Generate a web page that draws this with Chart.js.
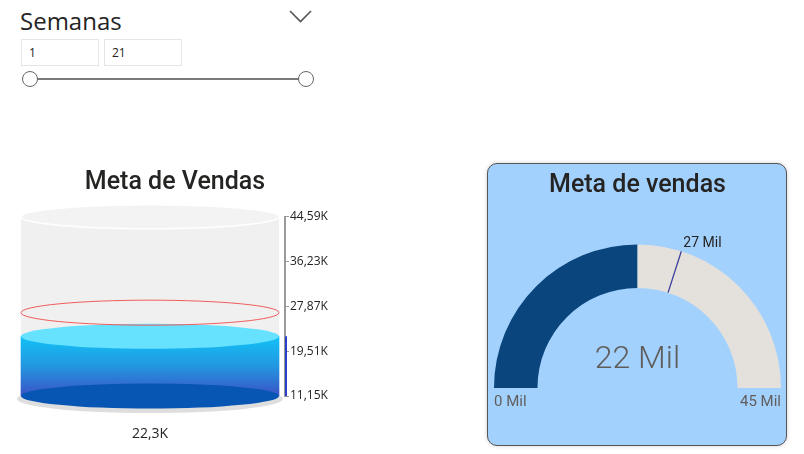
<!DOCTYPE html>
<html>
<head>
<meta charset="utf-8">
<script src="https://cdn.jsdelivr.net/npm/chart.js@4.4.1/dist/chart.umd.min.js"></script>
<style>
body { margin: 0; width: 804px; height: 454px; background: #fff; position: relative; overflow: hidden; font-family: 'Open Sans', sans-serif; }
.slicer-title { position: absolute; left: 20px; top: 4px; font-size: 24px; line-height: 34px; color: #252423; }
.chevron { position: absolute; left: 288px; top: 9px; }
.box { position: absolute; top: 39px; width: 69px; height: 25px; border: 1px solid #e6e6e6; font-size: 12px; line-height: 25px; color: #252423; padding-left: 7px; box-sizing: content-box; }
.slider { position: absolute; left: 0; top: 60px; }
.card { position: absolute; left: 487px; top: 163px; width: 298px; height: 281px; border: 1px solid #555; border-radius: 10px; background: #a3d1fe; box-shadow: 0 0 4px rgba(0,0,0,0.18); }
canvas { position: absolute; }
</style>
</head>
<body>
<div class="slicer-title">Semanas</div>
<svg class="chevron" width="26" height="16"><polyline points="2,2 12.5,12.5 23,2" fill="none" stroke="#555" stroke-width="1.6"/></svg>
<div class="box" id="semIni" style="left:21px;"></div>
<div class="box" id="semFim" style="left:104px;"></div>
<svg class="slider" width="330" height="40">
  <line x1="30" y1="19" x2="306" y2="19" stroke="#7a7a7a" stroke-width="2"/>
  <circle cx="30" cy="19" r="7.5" fill="#fff" stroke="#666" stroke-width="1"/>
  <circle cx="306" cy="19" r="7.5" fill="#fff" stroke="#666" stroke-width="1"/>
</svg>
<div class="card"></div>
<canvas id="cilindro" width="335" height="304" style="left:0;top:150px;"></canvas>
<canvas id="gauge" width="300" height="283" style="left:487px;top:163px;"></canvas>
<script>
const semanas = [1, 21];
const categorias = ['Meta de Vendas'];
const vendas = [22.3];          // mil
const meta = [26.7];            // mil
const faixa = [0, 44.59];       // min / max do medidor
const eixoTicks = [11.15, 19.51, 27.87, 36.23, 44.59];

document.getElementById('semIni').textContent = semanas[0];
document.getElementById('semFim').textContent = semanas[1];

const tituloFonte = { family: 'Roboto', size: 25, weight: '500' };
const fmtK = v => v.toFixed(2).replace('.', ',') + 'K';
const fmtMil = v => Math.round(v) + ' Mil';

function elipse(ctx, x, y, rx, ry) {
    ctx.beginPath();
    ctx.ellipse(x, y, rx, ry, 0, 0, Math.PI * 2);
}

const cilindroPlugin = {
    id: 'cilindro',
    beforeDatasetsDraw(chart) {
        const { ctx, chartArea } = chart;
        const bar = chart.getDatasetMeta(0).data[0];
        const rx = bar.width / 2;
        ctx.save();
        // sombra
        elipse(ctx, bar.x, chartArea.bottom + 3, rx + 4, 14);
        ctx.fillStyle = '#dedede';
        ctx.fill();
        // corpo
        ctx.fillStyle = '#f0f0f0';
        ctx.fillRect(bar.x - rx, chartArea.top, rx * 2, chartArea.bottom - chartArea.top);
        ctx.restore();
    },
    afterDatasetsDraw(chart) {
        const { ctx, chartArea, scales } = chart;
        const bar = chart.getDatasetMeta(0).data[0];
        const rx = bar.width / 2;
        const fundo = chartArea.bottom;
        ctx.save();
        // fundo do liquido
        elipse(ctx, bar.x, fundo, rx, 12.5);
        ctx.fillStyle = '#0756b3';
        ctx.fill();
        // topo do liquido
        elipse(ctx, bar.x, bar.y, rx, 12.5);
        ctx.fillStyle = '#66e1fe';
        ctx.fill();
        // meta
        elipse(ctx, bar.x, scales.y.getPixelForValue(meta[0]), rx, 12.5);
        ctx.strokeStyle = '#f25c5c';
        ctx.lineWidth = 1;
        ctx.stroke();
        // tampa
        elipse(ctx, bar.x, chartArea.top, rx, 12);
        ctx.fillStyle = '#f3f3f3';
        ctx.fill();
        ctx.strokeStyle = '#ffffff';
        ctx.lineWidth = 1.5;
        ctx.stroke();
        // eixo azul ate o valor
        ctx.beginPath();
        ctx.moveTo(chartArea.right + 1, bar.y);
        ctx.lineTo(chartArea.right + 1, fundo);
        ctx.strokeStyle = '#2b40c8';
        ctx.lineWidth = 2;
        ctx.stroke();
        // rotulo do valor
        ctx.fillStyle = '#252423';
        ctx.font = '14px "Open Sans"';
        ctx.textAlign = 'center';
        ctx.textBaseline = 'middle';
        ctx.fillText(String(vendas[0]).replace('.', ',') + 'K', bar.x, fundo + 38);
        ctx.restore();
    }
};

const ctxCil = document.getElementById('cilindro').getContext('2d');
const cilindro = new Chart(ctxCil, {
    type: 'bar',
    data: {
        labels: categorias,
        datasets: [{
            data: vendas,
            borderWidth: 0,
            barThickness: 258,
            backgroundColor: function(c) {
                const chart = c.chart;
                if (!chart.chartArea) return '#1fa0e6';
                const top = chart.scales.y.getPixelForValue(vendas[0]);
                const g = chart.ctx.createLinearGradient(0, top, 0, chart.chartArea.bottom);
                g.addColorStop(0, '#12c2f6');
                g.addColorStop(0.5, '#2397e0');
                g.addColorStop(1, '#3a52c6');
                return g;
            }
        }]
    },
    options: {
        responsive: false,
        animation: false,
        layout: { padding: { left: 15, bottom: 58 } },
        scales: {
            x: { display: false },
            y: {
                position: 'right',
                min: eixoTicks[0],
                max: eixoTicks[eixoTicks.length - 1],
                afterBuildTicks: s => { s.ticks = eixoTicks.map(v => ({ value: v })); },
                afterFit: s => { s.width = 50; },
                grid: { drawOnChartArea: false, tickLength: 4, color: '#9a9a9a' },
                border: { color: '#9a9a9a', width: 2 },
                ticks: {
                    padding: 1,
                    color: '#252423',
                    font: { family: 'Open Sans', size: 12 },
                    callback: v => fmtK(v)
                }
            }
        },
        plugins: {
            legend: { display: false },
            tooltip: { enabled: false },
            title: {
                display: true,
                text: 'Meta de Vendas',
                font: tituloFonte,
                color: '#252423',
                padding: { top: 17.4, bottom: 19.4 }
            }
        }
    },
    plugins: [cilindroPlugin]
});

const gaugePlugin = {
    id: 'gaugeTextos',
    afterDraw(chart) {
        const { ctx } = chart;
        const arc = chart.getDatasetMeta(0).data[0];
        const cx = arc.x, cy = arc.y, R = arc.outerRadius, r = arc.innerRadius;
        const a = Math.PI + Math.PI * (meta[0] - faixa[0]) / (faixa[1] - faixa[0]);
        const ox = cx + R * Math.cos(a), oy = cy + R * Math.sin(a);
        ctx.save();
        ctx.beginPath();
        ctx.moveTo(cx + r * Math.cos(a), cy + r * Math.sin(a));
        ctx.lineTo(ox, oy);
        ctx.strokeStyle = '#3b3f9e';
        ctx.lineWidth = 1.3;
        ctx.stroke();
        ctx.textBaseline = 'middle';
        ctx.font = '14px Roboto';
        ctx.fillStyle = '#252423';
        ctx.textAlign = 'left';
        ctx.fillText(fmtMil(meta[0]), ox + 2, oy - 8);
        ctx.font = '15px Roboto';
        ctx.fillStyle = '#605e5c';
        ctx.fillText(fmtMil(faixa[0]), cx - R, cy + 14);
        ctx.textAlign = 'right';
        ctx.fillText(fmtMil(faixa[1]), cx + R, cy + 14);
        ctx.textAlign = 'center';
        ctx.font = '300 32px Roboto';
        ctx.fillText(fmtMil(vendas[0]), cx, cy - 28);
        ctx.restore();
    }
};

const ctxGauge = document.getElementById('gauge').getContext('2d');
const gauge = new Chart(ctxGauge, {
    type: 'doughnut',
    data: {
        labels: ['Vendas', 'Restante'],
        datasets: [{
            data: [vendas[0] - faixa[0], faixa[1] - vendas[0]],
            backgroundColor: ['#0a457d', '#e4e0db'],
            borderWidth: 0
        }]
    },
    options: {
        responsive: false,
        animation: false,
        rotation: -90,
        circumference: 180,
        cutout: '69.7%',
        layout: { padding: { left: 7, right: 6, bottom: 58 } },
        plugins: {
            legend: { display: false },
            tooltip: { enabled: false },
            title: {
                display: true,
                text: 'Meta de vendas',
                font: tituloFonte,
                color: '#252423',
                padding: { top: 7.9, bottom: 43.4 }
            }
        }
    },
    plugins: [gaugePlugin]
});
</script>
</body>
</html>
